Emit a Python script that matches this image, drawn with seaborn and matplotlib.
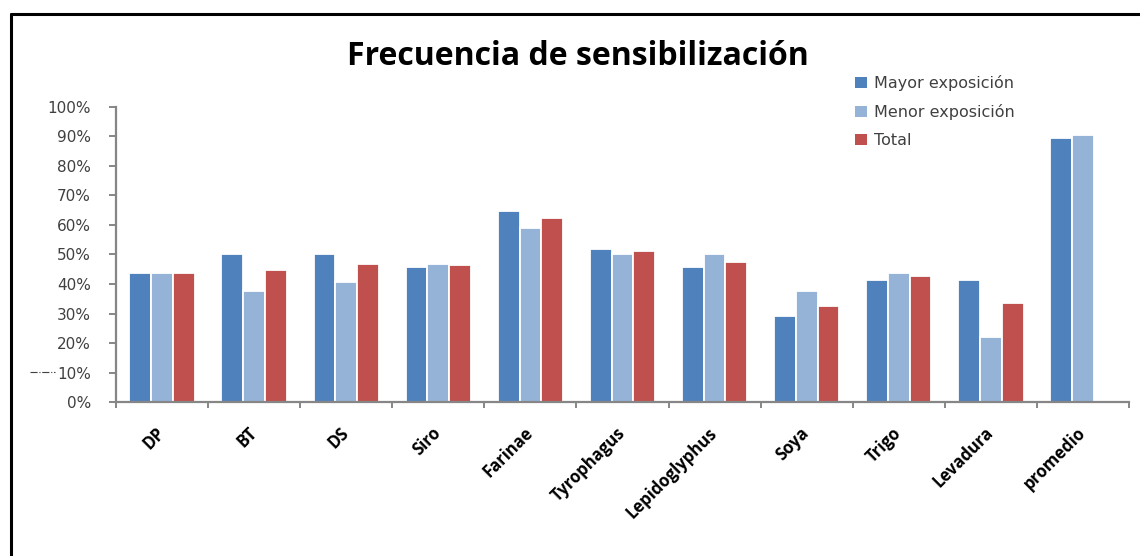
import matplotlib
matplotlib.use("Agg")
import matplotlib.pyplot as plt
from matplotlib.lines import Line2D
from matplotlib.patches import Patch
from matplotlib.ticker import FixedLocator
import seaborn as sns
import pandas as pd
import numpy as np

categories = ["DP", "BT", "DS", "Siro", "Farinae", "Tyrophagus", "Lepidoglyphus",
              "Soya", "Trigo", "Levadura", "promedio"]
mayor = [43.8, 50.2, 50.2, 45.8, 64.6, 51.8, 45.8, 29.3, 41.5, 41.5, 89.5]
menor = [43.8, 37.6, 40.7, 46.9, 59.1, 50.1, 50.1, 37.5, 43.9, 22.0, 90.5]
total = [43.8, 44.6, 46.7, 46.6, 62.2, 51.3, 47.4, 32.5, 42.6, 33.6, np.nan]
series = ["Mayor exposición", "Menor exposición", "Total"]
colors = ["#4F81BD", "#95B3D7", "#C0504D"]
yticks = [0, 10, 20, 30, 40, 50, 60, 70, 80, 90, 100]
ytick_labels = ["0%", "10%", "20%", "30%", "40%", "50%", "60%", "70%", "80%", "90%", "100%"]
title = "Frecuencia de sensibilización"

rows = []
for name, vals in zip(series, [mayor, menor, total]):
    for c, v in zip(categories, vals):
        rows.append({"cat": c, "serie": name, "valor": v})
df = pd.DataFrame(rows).dropna()

sns.set_theme(style="white")
plt.rcParams["font.family"] = ["DejaVu Sans"]

W, H = 1140, 556
fig = plt.figure(figsize=(W / 100, H / 100), dpi=100)
ax = fig.add_axes([116 / W, (H - 402.3) / H, (1129 - 116) / W, (402.3 - 106.7) / H])

sns.barplot(data=df, x="cat", y="valor", hue="serie", order=categories,
            hue_order=series, palette=colors, width=0.71, dodge=True,
            edgecolor="white", linewidth=1.3, saturation=1, legend=False, ax=ax,
            errorbar=None)

ax.set_xlim(-0.5, len(categories) - 0.5)
ax.set_ylim(0, 100)
ax.set_xlabel("")
ax.set_ylabel("")

for s in ["top", "right"]:
    ax.spines[s].set_visible(False)
for s in ["left", "bottom"]:
    ax.spines[s].set_color("#868686")
    ax.spines[s].set_linewidth(1.6)

ax.set_yticks(yticks)
ax.set_yticklabels(ytick_labels, fontsize=11, color="#404040")
ax.tick_params(axis="y", direction="out", length=5, width=1.4, color="#868686", pad=13, left=True)

ax.set_xticks(range(len(categories)))
ax.set_xticklabels(categories, rotation=45, ha="right", va="center",
                   rotation_mode="anchor", fontsize=12, fontweight="bold",
                   family="Open Sans", color="black")
ax.tick_params(axis="x", which="major", length=0, pad=20)
ax.xaxis.set_minor_locator(FixedLocator(np.arange(-0.5, len(categories), 1.0)))
ax.tick_params(axis="x", which="minor", direction="out", length=4.5, width=1.4,
               color="#868686", bottom=True)

fig.text(578 / W, (H - 65) / H, title, ha="center", va="baseline",
         fontsize=23, fontweight="bold", family="Open Sans", color="black")

handles = [Patch(facecolor=c, edgecolor="none") for c in colors]
leg = ax.legend(handles, series, loc="upper left",
                bbox_to_anchor=(855 / W, (H - 75) / H), bbox_transform=fig.transFigure,
                frameon=False, fontsize=11.5, handlelength=0.75, handleheight=0.75,
                handletextpad=0.45, labelspacing=0.82, borderpad=0, borderaxespad=0)
for t in leg.get_texts():
    t.set_color("#404040")

# frame lines
fig.add_artist(Line2D([10.7 / W, 10.7 / W], [0, (H - 14.3) / H], transform=fig.transFigure,
                      color="black", lw=2.2))
fig.add_artist(Line2D([10.7 / W, 1.0], [(H - 14.3) / H, (H - 14.3) / H], transform=fig.transFigure,
                      color="black", lw=2.2))
# small stray mark near 10%
fig.add_artist(Line2D([30 / W, 55 / W], [(H - 372) / H, (H - 372) / H], transform=fig.transFigure,
                      color="#404040", lw=0.8, linestyle="-."))

fig.savefig("out.png", dpi=100, facecolor="white")
